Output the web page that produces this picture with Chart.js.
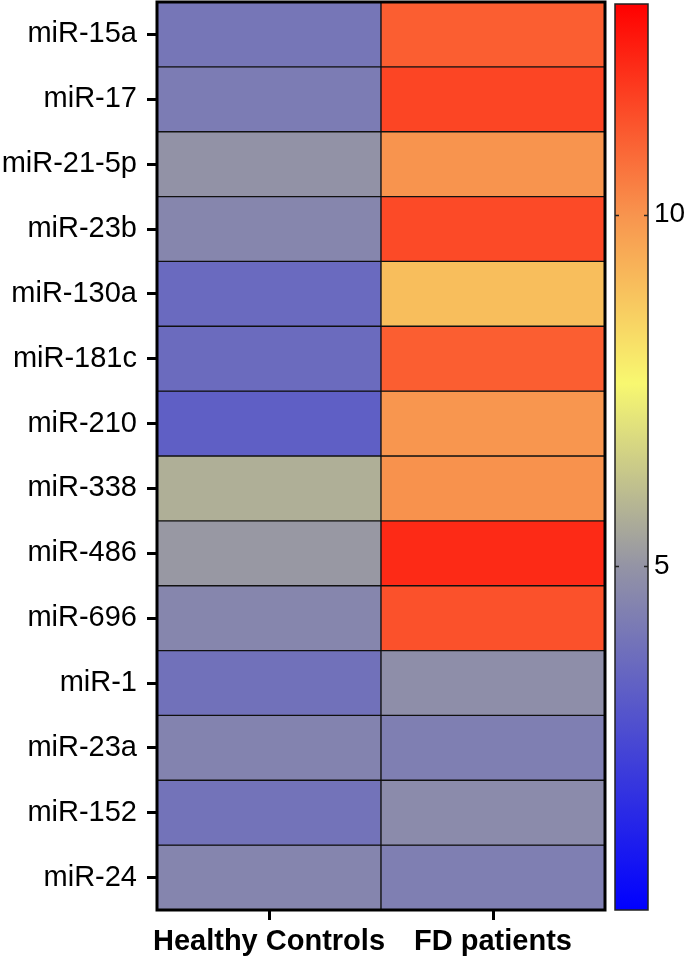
<!DOCTYPE html>
<html>
<head>
<meta charset="utf-8">
<script src="https://cdn.jsdelivr.net/npm/chart.js@4"></script>
<style>
  body { margin: 0; background: #fff; }
  #wrap { position: relative; width: 690px; height: 957px; }
  #heat { position: absolute; left: 0; top: 0; }
  #bar { position: absolute; left: 607px; top: 0; }
</style>
</head>
<body>
<div id="wrap">
  <canvas id="heat" width="607" height="957"></canvas>
  <canvas id="bar" width="83" height="957"></canvas>
</div>
<script>
// rows top to bottom
const mirnas = ['miR-15a', 'miR-17', 'miR-21-5p', 'miR-23b', 'miR-130a', 'miR-181c', 'miR-210',
  'miR-338', 'miR-486', 'miR-696', 'miR-1', 'miR-23a', 'miR-152', 'miR-24'];
const groups = ['Healthy Controls', 'FD patients'];
const healthyControls = [4.0, 4.2, 4.95, 4.55, 3.6, 3.65, 3.25, 5.7, 5.1, 4.55, 3.85, 4.45, 3.9, 4.5];
const fdPatients = [11.1, 11.6, 10.0, 11.5, 9.0, 11.1, 9.95, 10.05, 12.15, 11.35, 4.8, 4.3, 4.7, 4.3];

// colour scale
const scaleMin = 0.1;
const scaleMax = 13;
const scaleTicks = [5, 10];
const colorStops = [
  [0.1, [0, 0, 255]],
  [5, [148, 148, 165]],
  [7.6, [248, 248, 112]],
  [10, [248, 148, 78]],
  [13, [255, 0, 0]]
];

function colorFor(v) {
  if (v <= colorStops[0][0]) return 'rgb(' + colorStops[0][1].join(',') + ')';
  for (let i = 1; i < colorStops.length; i++) {
    const [v1, c1] = colorStops[i];
    const [v0, c0] = colorStops[i - 1];
    if (v <= v1) {
      const t = (v - v0) / (v1 - v0);
      const c = c0.map((x, k) => Math.round(x + (c1[k] - x) * t));
      return 'rgb(' + c.join(',') + ')';
    }
  }
  return 'rgb(' + colorStops[colorStops.length - 1][1].join(',') + ')';
}

const font = 'Arial, "Liberation Sans", sans-serif';
const n = mirnas.length;

// no extra room for the first/last tick label
const noPad = s => { s.paddingTop = 0; s.paddingBottom = 0; s.paddingLeft = 0; s.paddingRight = 0; };

// frame around the plot area
const framePlugin = {
  id: 'frame',
  afterDatasetsDraw(chart) {
    const { ctx, chartArea: a } = chart;
    ctx.save();
    ctx.strokeStyle = '#000';
    ctx.lineWidth = 3;
    ctx.strokeRect(a.left, a.top, a.right - a.left, a.bottom - a.top);
    ctx.restore();
  }
};

new Chart(document.getElementById('heat'), {
  type: 'bar',
  data: {
    labels: groups,
    datasets: mirnas.map((name, i) => ({
      label: name,
      data: [[n - 1 - i, n - i], [n - 1 - i, n - i]],
      backgroundColor: [colorFor(healthyControls[i]), colorFor(fdPatients[i])],
      borderColor: '#111',
      borderWidth: 1,
      borderSkipped: false,
      barPercentage: 1,
      categoryPercentage: 1,
      grouped: false
    }))
  },
  options: {
    responsive: false,
    animation: false,
    layout: { padding: { top: 2, right: 2, left: 0, bottom: 0 } },
    plugins: { legend: { display: false }, tooltip: { enabled: false } },
    scales: {
      x: {
        type: 'category',
        offset: true,
        grid: { offset: false, drawOnChartArea: false, tickLength: 10, tickWidth: 3, tickColor: '#000' },
        border: { display: false },
        ticks: {
          color: '#000', padding: 5, autoSkip: false, maxRotation: 0, minRotation: 0,
          font: { family: font, size: 29, weight: 'bold' }
        },
        afterFit: s => { s.height = 47; noPad(s); }
      },
      y: {
        type: 'linear',
        min: 0,
        max: n,
        grid: { drawOnChartArea: false, tickLength: 10, tickWidth: 3, tickColor: '#000' },
        border: { display: false },
        afterBuildTicks: s => { s.ticks = mirnas.map((m, i) => ({ value: n - 0.5 - i })); },
        ticks: {
          color: '#000',
          padding: 10,
          font: { family: font, size: 29 },
          callback: v => mirnas[Math.round(n - 0.5 - v)]
        },
        afterFit: s => { s.width = 157; noPad(s); }
      }
    }
  },
  plugins: [framePlugin]
});

// colour bar
const barTickPlugin = {
  id: 'barTicks',
  afterDatasetsDraw(chart) {
    const { ctx, chartArea: a } = chart;
    const y = chart.scales.y;
    ctx.save();
    ctx.strokeStyle = '#222';
    ctx.lineWidth = 1.5;
    ctx.strokeRect(a.left, a.top, a.right - a.left, a.bottom - a.top);
    scaleTicks.forEach(t => {
      const py = Math.round(y.getPixelForValue(t)) + 0.5;
      ctx.beginPath();
      ctx.moveTo(a.left, py); ctx.lineTo(a.left + 4, py);
      ctx.moveTo(a.right - 4, py); ctx.lineTo(a.right, py);
      ctx.stroke();
    });
    ctx.restore();
  }
};

new Chart(document.getElementById('bar'), {
  type: 'bar',
  data: {
    labels: [''],
    datasets: [{
      data: [[scaleMin, scaleMax]],
      backgroundColor: c => {
        const chart = c.chart;
        const a = chart.chartArea;
        if (!a) return colorFor(scaleMax);
        const y = chart.scales.y;
        const g = chart.ctx.createLinearGradient(0, y.getPixelForValue(scaleMin), 0, y.getPixelForValue(scaleMax));
        colorStops.forEach(([v, col]) => {
          g.addColorStop((v - scaleMin) / (scaleMax - scaleMin), 'rgb(' + col.join(',') + ')');
        });
        return g;
      },
      borderWidth: 0,
      barPercentage: 1,
      categoryPercentage: 1
    }]
  },
  options: {
    responsive: false,
    animation: false,
    layout: { padding: { top: 4, left: 8, right: 0, bottom: 47 } },
    plugins: { legend: { display: false }, tooltip: { enabled: false } },
    scales: {
      x: { display: false },
      y: {
        position: 'right',
        min: scaleMin,
        max: scaleMax,
        grid: { display: false, drawTicks: false, tickLength: 0 },
        border: { display: false },
        afterBuildTicks: s => { s.ticks = scaleTicks.map(v => ({ value: v })); },
        ticks: { color: '#000', padding: 6, font: { family: font, size: 28 } },
        afterFit: s => { s.width = 42; noPad(s); }
      }
    }
  },
  plugins: [barTickPlugin]
});
</script>
</body>
</html>
